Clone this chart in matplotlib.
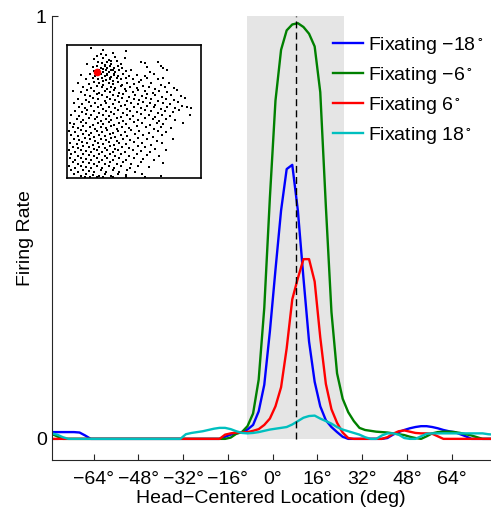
import matplotlib
matplotlib.use("Agg")
import matplotlib.pyplot as plt
import numpy as np

plt.rcParams['font.family'] = ['Liberation Sans', 'DejaVu Sans']
plt.rcParams['mathtext.fontset'] = 'custom'
plt.rcParams['mathtext.rm'] = 'Liberation Sans'
plt.rcParams['mathtext.it'] = 'Liberation Sans:italic'

# sample positions (deg), every 2 deg
loc = np.arange(-79, 80, 2)

fix_m18 = [0.016, 0.016, 0.016, 0.016, 0.016, 0.015, 0.008, 0, 0, 0,
           0, 0, 0, 0, 0, 0, 0, 0, 0, 0,
           0, 0, 0, 0, 0, 0, 0, 0, 0, 0,
           0, 0.005, 0.01, 0.013, 0.016, 0.022, 0.033, 0.065, 0.128, 0.254,
           0.40, 0.54, 0.638, 0.648, 0.54, 0.38, 0.23, 0.135, 0.077, 0.044,
           0.028, 0.016, 0.005, 0, 0, 0, 0, 0, 0, 0,
           0.002, 0.01, 0.016, 0.021, 0.025, 0.028, 0.03, 0.03, 0.028, 0.025,
           0.021, 0.018, 0.016, 0.011, 0.006, 0, 0, 0, 0, 0]
fix_m6 = [0.012, 0.006, 0, 0, 0, 0, 0, 0, 0, 0,
          0, 0, 0, 0, 0, 0, 0, 0, 0, 0,
          0, 0, 0, 0, 0, 0, 0, 0, 0, 0,
          0, 0, 0.003, 0.012, 0.016, 0.03, 0.06, 0.14, 0.31, 0.57,
          0.80, 0.92, 0.966, 0.98, 0.983, 0.974, 0.958, 0.928, 0.82, 0.55,
          0.30, 0.155, 0.095, 0.063, 0.042, 0.026, 0.021, 0.019, 0.017, 0.016,
          0.015, 0.013, 0.011, 0.009, 0.005, 0.002, 0, 0.006, 0.013, 0.016,
          0.017, 0.017, 0.016, 0.014, 0.011, 0.008, 0.004, 0, 0, 0]
fix_6 = [0, 0, 0, 0, 0, 0, 0, 0, 0, 0,
         0, 0, 0, 0, 0, 0, 0, 0, 0, 0,
         0, 0, 0, 0, 0, 0, 0, 0, 0, 0,
         0, 0.01, 0.013, 0.015, 0.015, 0.016, 0.019, 0.023, 0.033, 0.048,
         0.077, 0.122, 0.214, 0.33, 0.38, 0.425, 0.425, 0.372, 0.24, 0.13,
         0.07, 0.038, 0.015, 0.002, 0, 0, 0, 0, 0, 0,
         0.004, 0.012, 0.018, 0.02, 0.017, 0.014, 0.013, 0.013, 0.012, 0.006,
         0, 0, 0, 0, 0, 0, 0, 0, 0, 0]
fix_18 = [0.013, 0.01, 0.004, 0, 0, 0, 0, 0, 0, 0,
          0, 0, 0, 0, 0, 0, 0, 0, 0, 0,
          0, 0, 0, 0, 0.011, 0.014, 0.016, 0.018, 0.021, 0.024,
          0.026, 0.026, 0.023, 0.018, 0.014, 0.013, 0.014, 0.016, 0.019, 0.022,
          0.024, 0.026, 0.028, 0.034, 0.042, 0.05, 0.054, 0.055, 0.048, 0.042,
          0.036, 0.028, 0.022, 0.018, 0.014, 0.01, 0.004, 0, 0, 0.008,
          0.013, 0.013, 0.01, 0.002, 0, 0, 0.006, 0.012, 0.013, 0.013,
          0.013, 0.013, 0.013, 0.013, 0.013, 0.013, 0.013, 0.013, 0.011, 0.01]

labels = [r'Fixating $\mathregular{-18^\circ}$', r'Fixating $\mathregular{-6^\circ}$',
          r'Fixating $\mathregular{6^\circ}$', r'Fixating $\mathregular{18^\circ}$']
colors = ['#0000ff', '#008000', '#ff0000', '#00bfbf']

rf_lo, rf_hi = -9, 25.5     # shaded receptive field
rf_center = 8.3
xticks = [-64, -48, -32, -16, 0, 16, 32, 48, 64]

# inset: unit positions in the map (normalised), highlighted unit
inset_pts = [
    (0.18, 0.975), (0.44, 0.955), (0.27, 0.965),
    (0.25, 0.935), (0.29, 0.925), (0.34, 0.94), (0.22, 0.915),
    (0.20, 0.895), (0.27, 0.905), (0.31, 0.89), (0.36, 0.91), (0.43, 0.90), (0.33, 0.88),
    (0.15, 0.86), (0.23, 0.875), (0.26, 0.865), (0.30, 0.87), (0.33, 0.855), (0.37, 0.88),
    (0.40, 0.86), (0.55, 0.875), (0.58, 0.865), (0.68, 0.87), (0.28, 0.85),
    (0.19, 0.835), (0.22, 0.845), (0.25, 0.83), (0.28, 0.84), (0.30, 0.825), (0.32, 0.845),
    (0.35, 0.83), (0.38, 0.84), (0.41, 0.825), (0.60, 0.835), (0.70, 0.845), (0.72, 0.83),
    (0.34, 0.815), (0.27, 0.82),
    (0.20, 0.805), (0.24, 0.815), (0.27, 0.80), (0.29, 0.81), (0.31, 0.795), (0.33, 0.81),
    (0.36, 0.80), (0.39, 0.815), (0.44, 0.805), (0.48, 0.81), (0.62, 0.80), (0.75, 0.815),
    (0.30, 0.785), (0.35, 0.78),
    (0.10, 0.775), (0.17, 0.785), (0.21, 0.77), (0.25, 0.78), (0.28, 0.765), (0.30, 0.775),
    (0.33, 0.76), (0.35, 0.775), (0.38, 0.765), (0.42, 0.78), (0.46, 0.77), (0.52, 0.775),
    (0.58, 0.765), (0.65, 0.78), (0.32, 0.75),
    (0.14, 0.745), (0.19, 0.755), (0.23, 0.74), (0.26, 0.75), (0.29, 0.735), (0.32, 0.745),
    (0.34, 0.73), (0.37, 0.75), (0.40, 0.74), (0.44, 0.755), (0.49, 0.745), (0.55, 0.735),
    (0.60, 0.75), (0.68, 0.74), (0.72, 0.755), (0.27, 0.725),
    (0.08, 0.715), (0.16, 0.705), (0.20, 0.72), (0.24, 0.71), (0.27, 0.70), (0.31, 0.715),
    (0.34, 0.705), (0.38, 0.72), (0.41, 0.70), (0.45, 0.715), (0.50, 0.705), (0.54, 0.72),
    (0.63, 0.71), (0.70, 0.70), (0.76, 0.715),
    (0.12, 0.685), (0.18, 0.675), (0.22, 0.69), (0.26, 0.68), (0.30, 0.67), (0.33, 0.685),
    (0.36, 0.675), (0.40, 0.69), (0.43, 0.67), (0.47, 0.685), (0.52, 0.675), (0.57, 0.69),
    (0.61, 0.68), (0.66, 0.67), (0.73, 0.685), (0.80, 0.675),
    (0.04, 0.655), (0.10, 0.645), (0.15, 0.66), (0.20, 0.65), (0.24, 0.64), (0.28, 0.655),
    (0.32, 0.645), (0.35, 0.66), (0.39, 0.64), (0.44, 0.655), (0.49, 0.645), (0.53, 0.66),
    (0.58, 0.65), (0.64, 0.64), (0.69, 0.655), (0.75, 0.645), (0.82, 0.66),
    (0.13, 0.625), (0.17, 0.615), (0.22, 0.63), (0.26, 0.62), (0.30, 0.61), (0.34, 0.625),
    (0.38, 0.615), (0.42, 0.63), (0.46, 0.61), (0.51, 0.625), (0.56, 0.615), (0.60, 0.63),
    (0.66, 0.62), (0.71, 0.61), (0.78, 0.625), (0.85, 0.615),
    (0.08, 0.595), (0.14, 0.585), (0.19, 0.60), (0.23, 0.59), (0.28, 0.58), (0.32, 0.595),
    (0.36, 0.585), (0.41, 0.60), (0.45, 0.58), (0.50, 0.595), (0.54, 0.585), (0.59, 0.60),
    (0.63, 0.59), (0.68, 0.58), (0.74, 0.595), (0.80, 0.585), (0.88, 0.60),
    (0.05, 0.565), (0.11, 0.555), (0.16, 0.57), (0.21, 0.56), (0.25, 0.55), (0.29, 0.565),
    (0.34, 0.555), (0.39, 0.57), (0.43, 0.55), (0.48, 0.565), (0.53, 0.555), (0.57, 0.57),
    (0.62, 0.56), (0.66, 0.55), (0.72, 0.565), (0.77, 0.555), (0.83, 0.57), (0.90, 0.535),
    (0.09, 0.535), (0.13, 0.525), (0.18, 0.54), (0.23, 0.53), (0.27, 0.52), (0.31, 0.535),
    (0.36, 0.525), (0.40, 0.54), (0.45, 0.52), (0.50, 0.535), (0.55, 0.525), (0.60, 0.54),
    (0.65, 0.53), (0.70, 0.52), (0.75, 0.535), (0.81, 0.525), (0.86, 0.54), (0.93, 0.525),
    (0.06, 0.505), (0.11, 0.495), (0.15, 0.51), (0.20, 0.50), (0.24, 0.49), (0.29, 0.505),
    (0.33, 0.495), (0.38, 0.51), (0.42, 0.49), (0.47, 0.505), (0.52, 0.495), (0.58, 0.51),
    (0.63, 0.50), (0.68, 0.49), (0.73, 0.505), (0.79, 0.495), (0.84, 0.51),
    (0.03, 0.475), (0.09, 0.465), (0.14, 0.48), (0.18, 0.47), (0.22, 0.46), (0.27, 0.475),
    (0.31, 0.465), (0.35, 0.48), (0.40, 0.46), (0.45, 0.475), (0.49, 0.465), (0.55, 0.48),
    (0.61, 0.47), (0.66, 0.46), (0.71, 0.475), (0.77, 0.465), (0.92, 0.47),
    (0.07, 0.445), (0.12, 0.435), (0.16, 0.45), (0.21, 0.44), (0.25, 0.43), (0.29, 0.445),
    (0.33, 0.435), (0.37, 0.45), (0.42, 0.43), (0.47, 0.445), (0.53, 0.435), (0.58, 0.45),
    (0.64, 0.44), (0.69, 0.43), (0.74, 0.445), (0.81, 0.435),
    (0.02, 0.415), (0.05, 0.405), (0.10, 0.42), (0.14, 0.41), (0.19, 0.40), (0.23, 0.415),
    (0.27, 0.405), (0.31, 0.42), (0.35, 0.40), (0.39, 0.415), (0.44, 0.405), (0.50, 0.42),
    (0.56, 0.41), (0.62, 0.40), (0.67, 0.415), (0.72, 0.405), (0.87, 0.41),
    (0.04, 0.385), (0.08, 0.375), (0.12, 0.39), (0.17, 0.38), (0.21, 0.37), (0.25, 0.385),
    (0.29, 0.375), (0.33, 0.39), (0.37, 0.37), (0.41, 0.385), (0.46, 0.375), (0.52, 0.39),
    (0.59, 0.38), (0.65, 0.37), (0.70, 0.385), (0.78, 0.375),
    (0.01, 0.355), (0.06, 0.345), (0.10, 0.36), (0.14, 0.35), (0.18, 0.34), (0.22, 0.355),
    (0.26, 0.345), (0.30, 0.36), (0.34, 0.34), (0.38, 0.355), (0.43, 0.345), (0.48, 0.36),
    (0.54, 0.35), (0.61, 0.34), (0.68, 0.355), (0.74, 0.345),
    (0.03, 0.325), (0.08, 0.315), (0.12, 0.33), (0.16, 0.32), (0.20, 0.31), (0.24, 0.325),
    (0.28, 0.315), (0.32, 0.33), (0.36, 0.31), (0.40, 0.325), (0.45, 0.315), (0.51, 0.33),
    (0.57, 0.32), (0.64, 0.31), (0.71, 0.325),
    (0.05, 0.295), (0.09, 0.285), (0.13, 0.30), (0.17, 0.29), (0.21, 0.28), (0.25, 0.295),
    (0.29, 0.285), (0.33, 0.30), (0.37, 0.28), (0.42, 0.295), (0.47, 0.285), (0.53, 0.30),
    (0.60, 0.29), (0.67, 0.28), (0.79, 0.295),
    (0.02, 0.265), (0.07, 0.255), (0.11, 0.27), (0.15, 0.26), (0.19, 0.25), (0.23, 0.265),
    (0.27, 0.255), (0.31, 0.27), (0.35, 0.25), (0.39, 0.265), (0.44, 0.255), (0.50, 0.27),
    (0.56, 0.26), (0.63, 0.25), (0.71, 0.265),
    (0.04, 0.235), (0.08, 0.225), (0.12, 0.24), (0.16, 0.23), (0.20, 0.22), (0.24, 0.235),
    (0.28, 0.225), (0.32, 0.24), (0.36, 0.22), (0.41, 0.235), (0.46, 0.225), (0.53, 0.24),
    (0.58, 0.23), (0.66, 0.22),
    (0.01, 0.205), (0.06, 0.195), (0.10, 0.21), (0.14, 0.20), (0.18, 0.19), (0.22, 0.205),
    (0.26, 0.195), (0.30, 0.21), (0.34, 0.19), (0.38, 0.205), (0.43, 0.195), (0.49, 0.21),
    (0.55, 0.20), (0.62, 0.19), (0.74, 0.205),
    (0.03, 0.175), (0.08, 0.165), (0.12, 0.18), (0.16, 0.17), (0.20, 0.16), (0.24, 0.175),
    (0.28, 0.165), (0.32, 0.18), (0.36, 0.16), (0.40, 0.175), (0.46, 0.165), (0.52, 0.18),
    (0.60, 0.17), (0.69, 0.16),
    (0.02, 0.145), (0.06, 0.135), (0.10, 0.15), (0.14, 0.14), (0.18, 0.13), (0.22, 0.145),
    (0.26, 0.135), (0.30, 0.15), (0.34, 0.13), (0.39, 0.145), (0.44, 0.135), (0.50, 0.15),
    (0.57, 0.14), (0.65, 0.13),
    (0.04, 0.115), (0.08, 0.105), (0.12, 0.12), (0.16, 0.11), (0.20, 0.10), (0.24, 0.115),
    (0.28, 0.105), (0.32, 0.12), (0.37, 0.10), (0.42, 0.115), (0.48, 0.105), (0.55, 0.12),
    (0.72, 0.11),
    (0.01, 0.085), (0.06, 0.075), (0.10, 0.09), (0.14, 0.08), (0.18, 0.07), (0.22, 0.085),
    (0.26, 0.075), (0.31, 0.09), (0.35, 0.07), (0.40, 0.085), (0.47, 0.075), (0.53, 0.09),
    (0.61, 0.08),
    (0.03, 0.055), (0.08, 0.045), (0.12, 0.06), (0.16, 0.05), (0.20, 0.04), (0.25, 0.055),
    (0.29, 0.045), (0.34, 0.06), (0.39, 0.04), (0.45, 0.055), (0.51, 0.045),
    (0.05, 0.025), (0.10, 0.015), (0.14, 0.03), (0.19, 0.02), (0.24, 0.01), (0.28, 0.025),
    (0.33, 0.015), (0.38, 0.03), (0.44, 0.02), (0.56, 0.025), (0.70, 0.015),
    (0.13, 0.005), (0.17, 0.008), (0.22, 0.004), (0.27, 0.007), (0.34, 0.006), (0.44, 0.004),
    (0.58, 0.008),
]
sel_unit = (0.22, 0.80)

fig = plt.figure(figsize=(4.91, 5.13), dpi=100)
ax = fig.add_axes([0.105, 0.1033, 0.895, 0.8655])

ax.fill_between([rf_lo, rf_hi], 0, 1, color='#e5e5e5', lw=0, zorder=0)
for y, lab, c in zip([fix_m18, fix_m6, fix_6, fix_18], labels, colors):
    ax.plot(loc, y, color=c, lw=1.7, label=lab)
ax.plot([rf_center, rf_center], [0, 1], color='k', lw=1.0, dashes=(5, 3))

ax.set_xlim(-79, 78)
ax.set_ylim(-0.05, 1)
ax.set_xticks(xticks)
ax.set_xticklabels([('\u2212%d\u00b0' % -t) if t < 0 else ('%d\u00b0' % t) for t in xticks])
ax.set_yticks([0, 1])
ax.tick_params(direction='in', length=4, labelsize=14, colors='#262626', labelcolor='k')
ax.tick_params(axis='x', pad=8)
for s in ['top', 'right']:
    ax.spines[s].set_visible(False)
for s in ['left', 'bottom']:
    ax.spines[s].set_color('#262626')
ax.set_xlabel('Head\u2212Centered Location (deg)', fontsize=14, labelpad=1)
ax.set_ylabel('Firing Rate', fontsize=14, labelpad=1)

ax.legend(loc='upper left', bbox_to_anchor=(0.623, 0.975), frameon=False, fontsize=14,
          handlelength=1.55, handletextpad=0.25, labelspacing=0.47, borderaxespad=0)

# inset map
ins = fig.add_axes([0.137, 0.6536, 0.2717, 0.2587])
px, py = zip(*inset_pts)
ins.plot(px, py, 's', color='k', ms=1.5, mew=0)
ins.plot(sel_unit[0], sel_unit[1], 'o', color='r', ms=5.5, mew=0)
ins.set_xlim(0, 1)
ins.set_ylim(0, 1)
ins.set_xticks([])
ins.set_yticks([])
for s in ins.spines.values():
    s.set_linewidth(1.2)

fig.savefig('out.png', dpi=100)
